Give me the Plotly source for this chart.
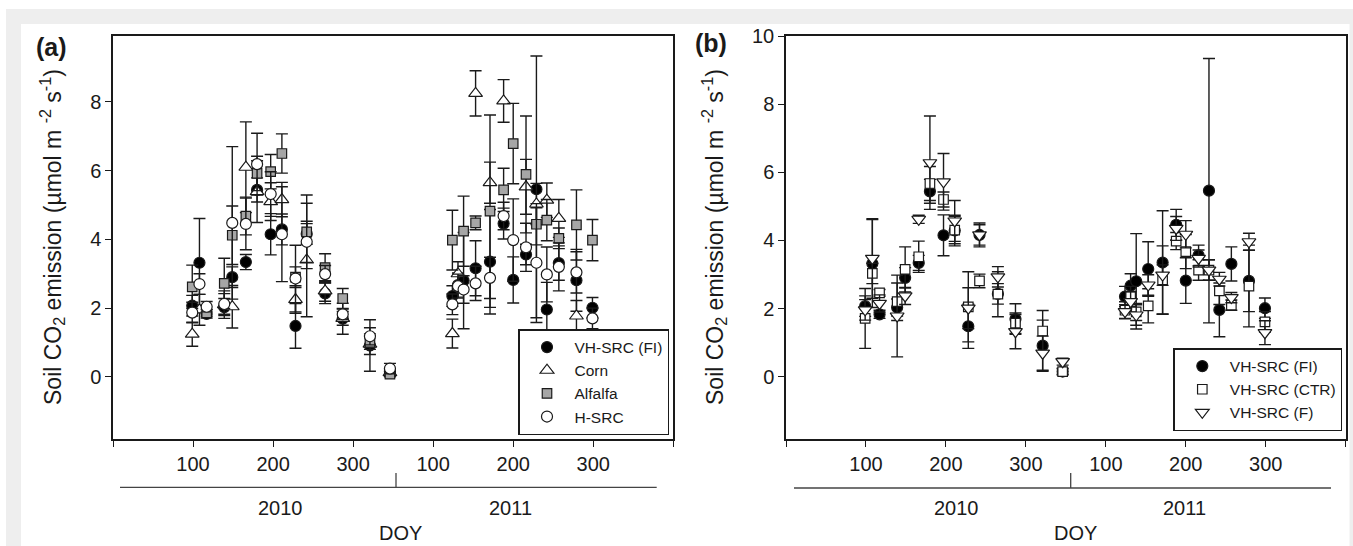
import plotly.graph_objects as go

# ---------------- data ----------------
DOY_2010 = [99, 108, 117, 139, 149, 166, 180, 197, 211, 228, 242, 265, 287, 321, 346]
DOY_2011 = [124, 131, 138, 153, 171, 188, 200, 216, 229, 242, 257, 279, 299]
SHIFT_2011 = 300  # 2011 DOY values are plotted after the 2010 season on a shared axis

X_TICKVALS = [100, 200, 300, 400, 500, 600]
X_TICKTEXT = ["100", "200", "300", "100", "200", "300"]
X_EDGE_TICKS = [0, 700]
YEARS = ["2010", "2011"]

# Panel (a)
fi_2010 = [2.07, 3.32, 1.83, 2.03, 2.90, 3.34, 5.44, 4.15, 4.29, 1.48, 4.16, 2.43, 1.69, 0.91, 0.15]
fi_2010_se = [0.30, 1.29, 0.12, 0.25, 0.30, 0.22, 0.35, 0.60, 0.45, 0.65, 0.30, 0.30, 0.45, 0.75, 0.08]
fi_2011 = [2.35, 2.67, 2.80, 3.16, 3.35, 4.46, 2.82, 3.56, 5.46, 1.96, 3.31, 2.81, 2.01]
fi_2011_se = [0.30, 0.35, 1.40, 0.80, 1.52, 0.45, 0.67, 0.30, 3.88, 0.79, 0.50, 0.90, 0.30]

corn_2010 = [1.24, 1.95, None, 2.10, 2.04, 6.10, 5.39, 5.10, 5.16, 2.25, 3.40, 2.50, 1.70, 0.95, 0.12]
corn_2010_se = [0.35, 0.45, None, 0.40, 0.62, 1.32, 0.90, 0.55, 0.50, 0.40, 1.65, 0.30, 0.20, 0.30, 0.08]
corn_2011 = [1.26, 3.00, None, 8.25, 5.65, 8.03, None, 5.53, 5.03, 5.14, 4.61, 1.77, None]
corn_2011_se = [0.42, 0.35, None, 0.66, 0.60, 0.62, None, 0.80, 0.60, 0.50, 0.55, 0.45, None]

alfalfa_2010 = [2.62, None, 1.86, 2.72, 4.12, 4.68, 5.92, 5.97, 6.50, 2.90, 4.22, 3.18, 2.28, 1.00, 0.08]
alfalfa_2010_se = [0.63, None, 0.10, 0.73, 0.85, 0.55, 0.50, 0.50, 0.57, 0.30, 1.07, 0.40, 0.29, 0.20, 0.08]
alfalfa_2011 = [3.98, None, 4.24, 4.48, 4.82, 5.44, 6.79, 5.89, 4.44, 4.56, 4.03, 4.42, 3.98]
alfalfa_2011_se = [0.87, None, 1.02, 0.20, 2.80, 0.63, 1.17, 1.70, 0.60, 0.60, 0.30, 1.02, 0.60]

hsrc_2010 = [1.87, 2.70, 2.04, 2.12, 4.48, 4.45, 6.19, 5.32, 4.15, 2.86, 3.93, 2.99, 1.82, 1.18, 0.24]
hsrc_2010_se = [0.30, 0.30, 0.15, 0.30, 2.22, 0.75, 0.90, 0.65, 1.38, 0.97, 0.60, 0.25, 0.15, 0.25, 0.15]
hsrc_2011 = [2.11, 2.64, 2.54, 2.72, 2.88, 4.68, 3.98, 3.77, 3.32, 2.98, 3.20, 3.04, 1.70]
hsrc_2011_se = [0.30, 0.35, 0.40, 0.50, 0.60, 0.40, 1.20, 0.70, 1.60, 0.80, 0.70, 0.60, 0.30]

# Panel (b)
ctr_2010 = [1.71, 3.03, 2.46, 2.20, 3.15, 3.52, 5.67, 5.20, 4.30, 2.05, 2.81, 2.42, 1.57, 1.34, 0.15]
ctr_2010_se = [0.88, 0.30, 0.10, 0.55, 0.66, 0.46, 0.50, 0.22, 0.40, 1.03, 0.20, 0.66, 0.30, 0.60, 0.10]
ctr_2011 = [1.95, 2.35, 1.90, 2.08, 2.84, 3.98, 3.67, 3.13, 3.13, 2.52, 2.10, 2.66, 1.61]
ctr_2011_se = [0.25, 0.30, 0.25, 0.50, 1.00, 0.25, 0.50, 0.30, 0.30, 0.40, 0.15, 1.20, 0.30]

f_2010 = [1.96, 3.47, 2.15, 1.78, 2.37, 4.62, 6.28, 5.72, 4.57, 2.01, 4.16, 2.93, 1.32, 0.69, 0.44]
f_2010_se = [0.30, 1.17, 0.25, 1.20, 0.25, 0.12, 1.37, 0.83, 0.60, 0.60, 0.35, 0.30, 0.50, 0.50, 0.10]
f_2011 = [1.91, 2.20, 1.81, 2.69, 2.98, 4.35, 4.18, 3.47, 3.13, 2.86, 2.32, 3.96, 1.29]
f_2011_se = [0.20, 0.30, 0.30, 0.30, 0.30, 0.35, 0.40, 0.25, 0.30, 0.20, 0.15, 0.25, 0.35]

# ---------------- helpers ----------------
W, H = 1353, 546
FONT = "Liberation Sans, Arial, sans-serif"
INK = "#1a1a1a"


def fx(p):
    return p / W


def fy(p):
    return 1 - p / H


x_all = DOY_2010 + [d + SHIFT_2011 for d in DOY_2011]

fig = go.Figure()


def add_series(name, y10, e10, y11, e11, symbol, fill, size, xa, ya, legend):
    fig.add_trace(go.Scatter(
        x=x_all, y=y10 + y11, name=name, mode="markers",
        xaxis=xa, yaxis=ya, legend=legend,
        marker=dict(symbol=symbol, size=size, color=fill,
                    line=dict(color=INK, width=1.2)),
        error_y=dict(type="data", array=e10 + e11, symmetric=True,
                     color=INK, thickness=1.4, width=6),
    ))


# panel (a)
add_series("VH-SRC (FI)", fi_2010, fi_2010_se, fi_2011, fi_2011_se, "circle", "#000000", 11, "x", "y", "legend")
add_series("Corn", corn_2010, corn_2010_se, corn_2011, corn_2011_se, "triangle-up", "#ffffff", 12, "x", "y", "legend")
add_series("Alfalfa", alfalfa_2010, alfalfa_2010_se, alfalfa_2011, alfalfa_2011_se, "square", "#a6a6a6", 9.5, "x", "y", "legend")
add_series("H-SRC", hsrc_2010, hsrc_2010_se, hsrc_2011, hsrc_2011_se, "circle", "#ffffff", 11, "x", "y", "legend")

# panel (b)
add_series("VH-SRC (FI)", fi_2010, fi_2010_se, fi_2011, fi_2011_se, "circle", "#000000", 11, "x2", "y2", "legend2")
add_series("VH-SRC (CTR)", ctr_2010, ctr_2010_se, ctr_2011, ctr_2011_se, "square", "#ffffff", 9.5, "x2", "y2", "legend2")
add_series("VH-SRC (F)", f_2010, f_2010_se, f_2011, f_2011_se, "triangle-down", "#ffffff", 12, "x2", "y2", "legend2")

xaxis_common = dict(
    range=[0, 700], tickmode="array", tickvals=X_TICKVALS, ticktext=X_TICKTEXT,
    ticks="outside", ticklen=6, tickwidth=1.3, tickcolor=INK,
    minor=dict(tickmode="array", tickvals=X_EDGE_TICKS, ticks="outside", ticklen=6,
               tickwidth=1.3, tickcolor=INK, showgrid=False),
    showline=True, linecolor=INK, linewidth=1.5, mirror=True,
    showgrid=False, zeroline=False, automargin=False,
    tickfont=dict(family=FONT, size=20, color=INK),
)
yaxis_common = dict(
    ticks="outside", ticklen=6, tickwidth=1.3, tickcolor=INK,
    showline=True, linecolor=INK, linewidth=1.5, mirror=True,
    showgrid=False, zeroline=False, automargin=False,
    tickfont=dict(family=FONT, size=20, color=INK),
)

ydom = [fy(439), fy(36)]
fig.update_layout(
    width=W, height=H,
    margin=dict(l=0, r=0, t=0, b=0, autoexpand=False),
    paper_bgcolor="#ffffff", plot_bgcolor="rgba(0,0,0,0)",
    font=dict(family=FONT, color=INK),
    xaxis=dict(domain=[fx(113), fx(673.3)], anchor="y", **xaxis_common),
    yaxis=dict(domain=ydom, anchor="x", range=[-1.81, 9.92], tickvals=[0, 2, 4, 6, 8], **yaxis_common),
    xaxis2=dict(domain=[fx(786), fx(1345.7)], anchor="y2", **xaxis_common),
    yaxis2=dict(domain=ydom, anchor="x2", range=[-1.83, 10.0], tickvals=[0, 2, 4, 6, 8, 10], **yaxis_common),
    legend=dict(x=fx(669), y=fy(435), xanchor="right", yanchor="bottom",
                bgcolor="#ffffff", bordercolor=INK, borderwidth=1.5,
                font=dict(family=FONT, size=15.5, color=INK), itemwidth=45,
                tracegroupgap=0),
    legend2=dict(x=fx(1342.3), y=fy(431), xanchor="right", yanchor="bottom",
                 bgcolor="#ffffff", bordercolor=INK, borderwidth=1.5,
                 font=dict(family=FONT, size=15.5, color=INK), itemwidth=45,
                 tracegroupgap=0),
    showlegend=True,
)

shapes = [
    # screenshot frame
    dict(type="rect", xref="paper", yref="paper", x0=fx(6), x1=1, y0=0, y1=fy(9),
         fillcolor="#eeeeee", line=dict(width=0), layer="below"),
    dict(type="rect", xref="paper", yref="paper", x0=fx(21), x1=fx(1349.5), y0=0, y1=fy(24),
         fillcolor="#ffffff", line=dict(width=0), layer="below"),
]
# year brackets under each x axis
for (l, r, sep, yl) in [(120, 656.7, 396, 487.3), (794, 1331, 1070.7, 488)]:
    shapes.append(dict(type="line", xref="paper", yref="paper", x0=fx(l), x1=fx(r), y0=fy(yl), y1=fy(yl),
                       line=dict(color="#444444", width=1.3)))
    shapes.append(dict(type="line", xref="paper", yref="paper", x0=fx(sep), x1=fx(sep), y0=fy(yl), y1=fy(473),
                       line=dict(color="#444444", width=1.3)))
fig.update_layout(shapes=shapes)

ytitle = "Soil CO<sub>2</sub> emission (µmol m <sup>-2</sup> s<sup>-1</sup>)"
ann = []


def add_text(px, py, txt, size, angle=0):
    ann.append(dict(x=fx(px), y=fy(py), xref="paper", yref="paper", text=txt, showarrow=False,
                    xanchor="center", yanchor="middle", textangle=angle,
                    font=dict(family=FONT, size=size, color=INK)))


add_text(51, 47, "<b>(a)</b>", 25)
add_text(711, 43, "<b>(b)</b>", 25)
for px in (52, 714):
    add_text(px, 237, ytitle, 23, -90)
for (px, txt) in [(280.7, YEARS[0]), (510, YEARS[1]), (956, YEARS[0]), (1184, YEARS[1])]:
    add_text(px, 507.7, txt, 20)
for px in (400, 1075):
    add_text(px, 533, "DOY", 20)
fig.update_layout(annotations=ann)

fig.write_html("out.html", config={"displayModeBar": False},
               post_script="document.body.style.margin='0px';")
